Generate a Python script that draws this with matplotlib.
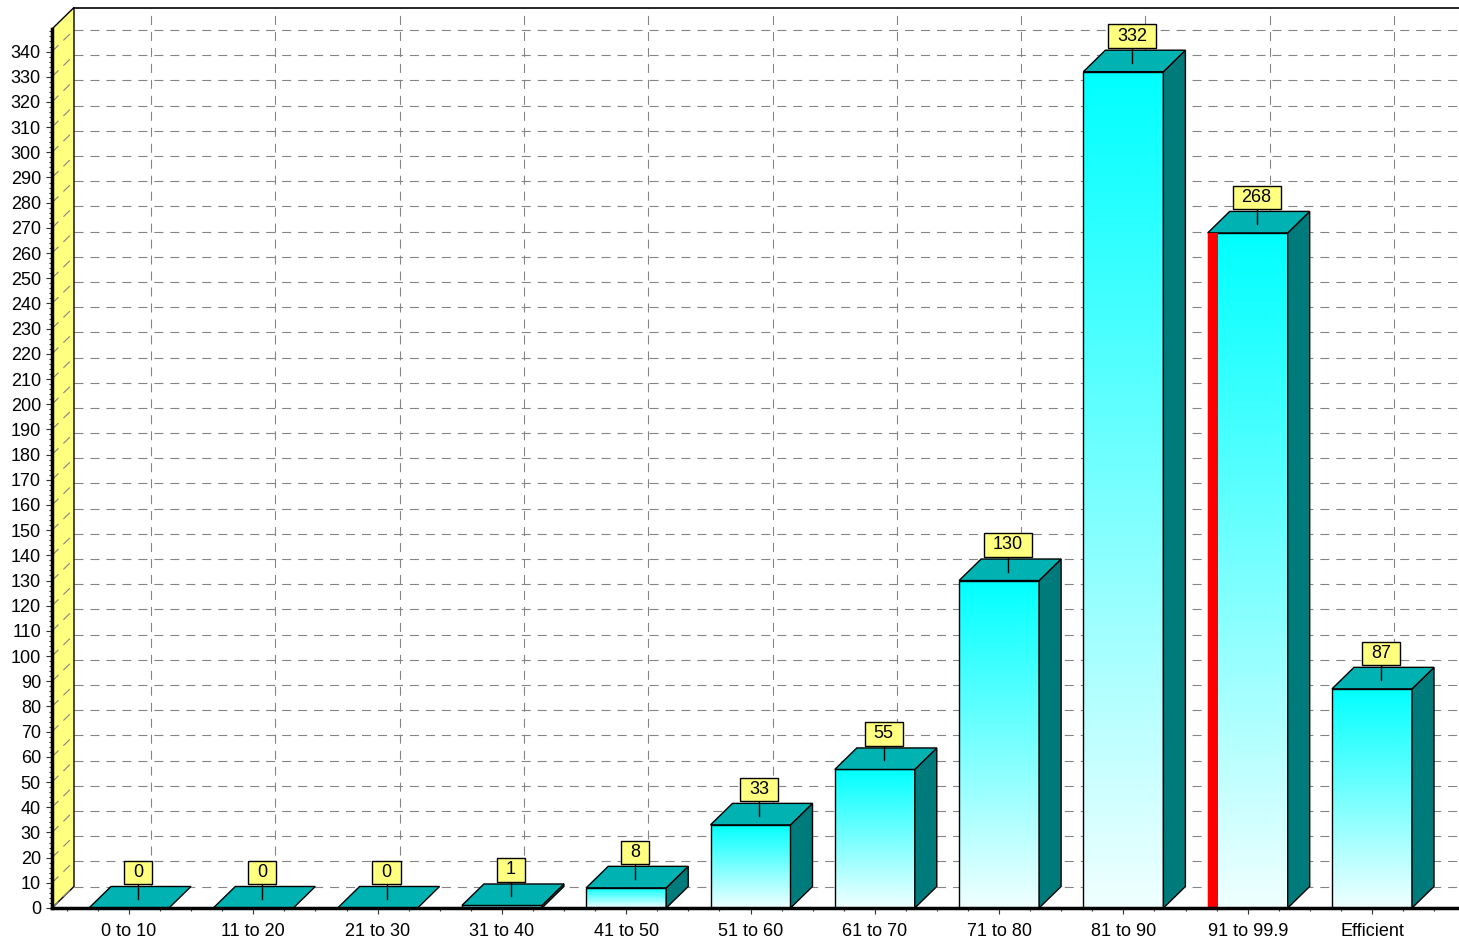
import numpy as np
import matplotlib.pyplot as plt
from matplotlib.patches import Polygon, Rectangle
from matplotlib.colors import LinearSegmentedColormap

plt.rcParams['font.family'] = ['Liberation Sans', 'DejaVu Sans']
plt.rcParams['lines.scale_dashes'] = False

categories = ['0 to 10', '11 to 20', '21 to 30', '31 to 40', '41 to 50', '51 to 60',
              '61 to 70', '71 to 80', '81 to 90', '91 to 99.9', 'Efficient']
counts = [0, 0, 0, 1, 8, 33, 55, 130, 332, 268, 87]
highlight = '91 to 99.9'
y_ticks = list(range(0, 350, 10))

W, H = 1459, 939
fig = plt.figure(figsize=(W / 100, H / 100), dpi=100)
ax = fig.add_axes([52 / W, 31 / H, (W - 52) / W, 879 / H])

# axis extents in data units (one category = 124.3 px, one unit = 2.519 px)
xl, xr = -77 / 124.3, (W - 129) / 124.3
ytop = 879 / 2.519
dx, dy = 22 / 124.3, 21.5 / 2.519   # depth offset of the back wall
bw = 80 / 124.3                      # bar width

grid_kw = dict(color='#858585', lw=0.8, ls=(0, (6.5, 5)), clip_on=False, zorder=1)

# floor and yellow side wall
ax.add_patch(Polygon([(xl, 0), (xr + 1, 0), (xr + 1, dy), (xl + dx, dy)],
                     closed=True, fc='white', ec='none', zorder=0.5, clip_on=False))
ax.add_patch(Polygon([(xl, 0), (xl + dx, dy), (xl + dx, ytop + dy), (xl, ytop)],
                     closed=True, fc='#FFFF80', ec='black', lw=1, zorder=1.5, clip_on=False))

# back wall grid
for v in y_ticks:
    ax.plot([xl + dx, xr + 1], [v + dy, v + dy], **grid_kw)
    ax.plot([xl, xl + dx], [v, v + dy], **{**grid_kw, 'zorder': 2})
for i in range(len(categories)):
    ax.plot([i + dx, i + dx], [dy, ytop + dy], **grid_kw)
ax.plot([xl + dx, xr + 1], [ytop + dy, ytop + dy], color='black', lw=1.2, clip_on=False, zorder=2)

# bars
cmap = LinearSegmentedColormap.from_list('bar', ['#F0FFFF', '#00FFFF'])
grad = np.linspace(0, 1, 256).reshape(-1, 1)
for i, (cat, v) in enumerate(zip(categories, counts)):
    x0, x1 = i - bw / 2, i + bw / 2
    if v > 0:
        ax.imshow(grad, extent=(x0, x1, 0, v), origin='lower', aspect='auto',
                  cmap=cmap, interpolation='bilinear', zorder=3)
        ax.add_patch(Rectangle((x0, 0), bw, v, fc='none', ec='black', lw=1, zorder=4))
        ax.add_patch(Polygon([(x1, 0), (x1 + dx, dy), (x1 + dx, v + dy), (x1, v)],
                             closed=True, fc='#007B7B', ec='black', lw=1, zorder=4))
        if cat == highlight:
            ax.add_patch(Rectangle((x0, 0), 10 / 124.3, v, fc='#FF0000', ec='none', zorder=4.5))
    ax.add_patch(Polygon([(x0, v), (x1, v), (x1 + dx, v + dy), (x0 + dx, v + dy)],
                         closed=True, fc='#00B2B2', ec='black', lw=1, zorder=4))

    cx = i + 0.072
    ax.plot([cx, cx], [v + dy * 0.42, v + dy + 1], color='black', lw=1, zorder=5)
    ax.text(cx, v + dy + 2.2, str(v), ha='center', va='bottom', fontsize=13, zorder=6,
            bbox=dict(boxstyle='square,pad=0.5', fc='#FFFF80', ec='black', lw=1,
                      mutation_aspect=0.36))

# axes
for side in ['top', 'right']:
    ax.spines[side].set_visible(False)
ax.spines['left'].set_linewidth(2.5)
ax.spines['bottom'].set_linewidth(2.5)
ax.spines['left'].set_zorder(7)
ax.spines['bottom'].set_zorder(7)
ax.patch.set_alpha(0)

ax.set_yticks(y_ticks)
ax.set_yticks(np.arange(0, 350, 2), minor=True)
ax.set_xticks(range(len(categories)))
ax.set_xticklabels(categories)
ax.set_xticks([k / 4 for k in range(-2, 4 * len(categories) + 2) if k % 4], minor=True)
ax.tick_params(axis='both', which='major', labelsize=13, length=4, width=0.8, color='#333333')
ax.tick_params(axis='both', which='minor', length=2, width=0.8, color='#333333')
ax.tick_params(axis='y', which='major', pad=4)
ax.tick_params(axis='x', which='major', pad=7)

ax.set_xlim(xl, xr)
ax.set_ylim(0, ytop)

fig.savefig('out.png', dpi=100)
